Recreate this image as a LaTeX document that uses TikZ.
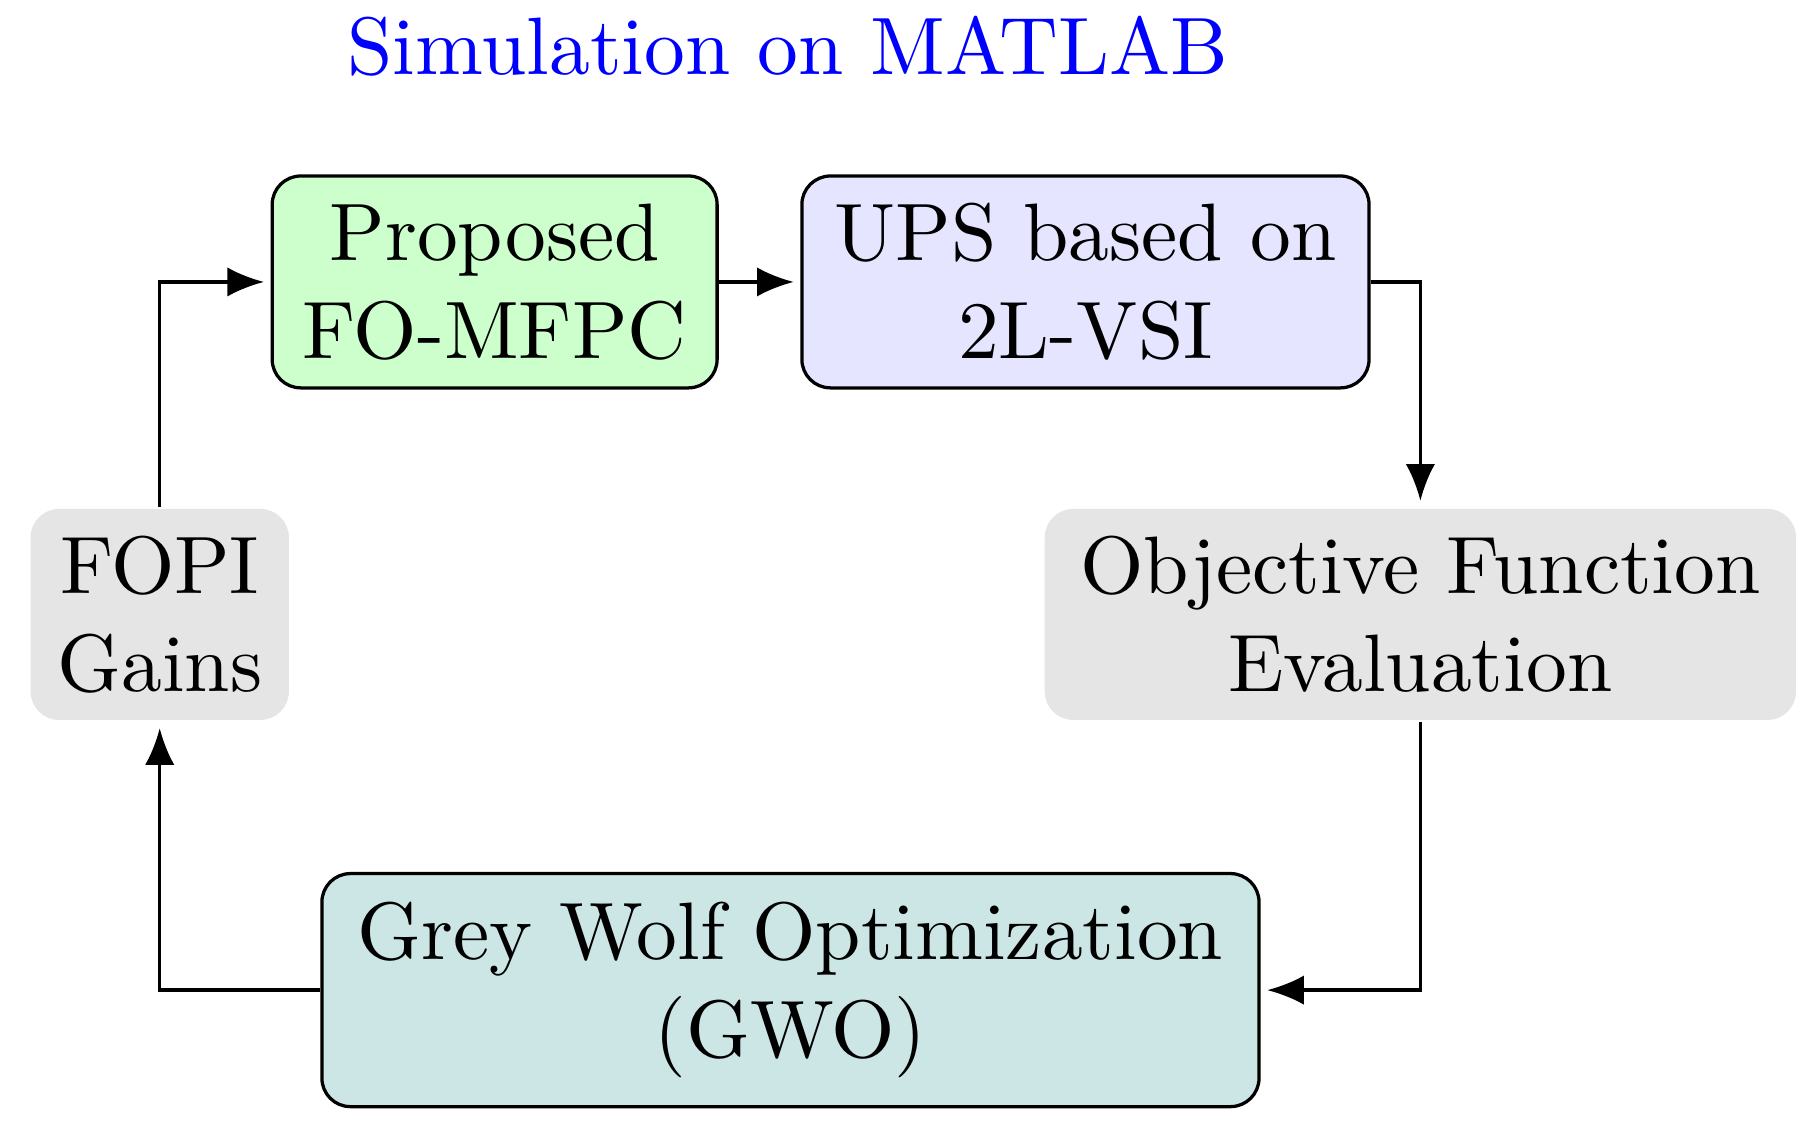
\documentclass[tikz,border=0pt]{standalone}
\usetikzlibrary{arrows.meta}
\tikzset{
  block/.style={draw, rounded corners=3.5pt, align=center, inner sep=0pt},
  softblock/.style={fill=gray!20, rounded corners=3.5pt, align=center, inner sep=0pt},
  flow/.style={-{Latex[length=4.5pt,width=3.6pt]}, shorten >=0.8pt}
}
\begin{document}
\begin{tikzpicture}[x=1pt, y=1pt]
    \useasboundingbox (0,0) rectangle (222.6,-138.65);
    \node[anchor=base, text=blue] (title) at (96.7,-9.2) {Simulation on MATLAB};

    \node[block, fill=green!20, minimum width=54.6pt, minimum height=26pt] (ctrl) at (60.7,-34.6)
      {Proposed\\FO-MFPC};
    \node[block, fill=blue!10, minimum width=69.6pt, minimum height=26pt] (ups) at (133.2,-34.6)
      {UPS based on\\2L-VSI};
    \node[softblock, minimum width=31.7pt, minimum height=25.9pt] (gains) at (19.6,-75.4)
      {FOPI\\Gains};
    \node[softblock, minimum width=92.2pt, minimum height=25.9pt] (obj) at (174.3,-75.4)
      {Objective Function\\Evaluation};
    \node[block, fill=teal!20, minimum width=115pt, minimum height=28.6pt] (gwo) at (97,-121.5)
      {Grey Wolf Optimization\\(GWO)};

    \draw[flow] (gains.north) |- (ctrl.west);
    \draw[flow] (ctrl.east) -- (ups.west);
    \draw[flow] (ups.east) -| (obj.north);
    \draw[flow] (obj.south) |- (gwo.east);
    \draw[flow] (gwo.west) -| (gains.south);
  \end{tikzpicture}
\end{document}
